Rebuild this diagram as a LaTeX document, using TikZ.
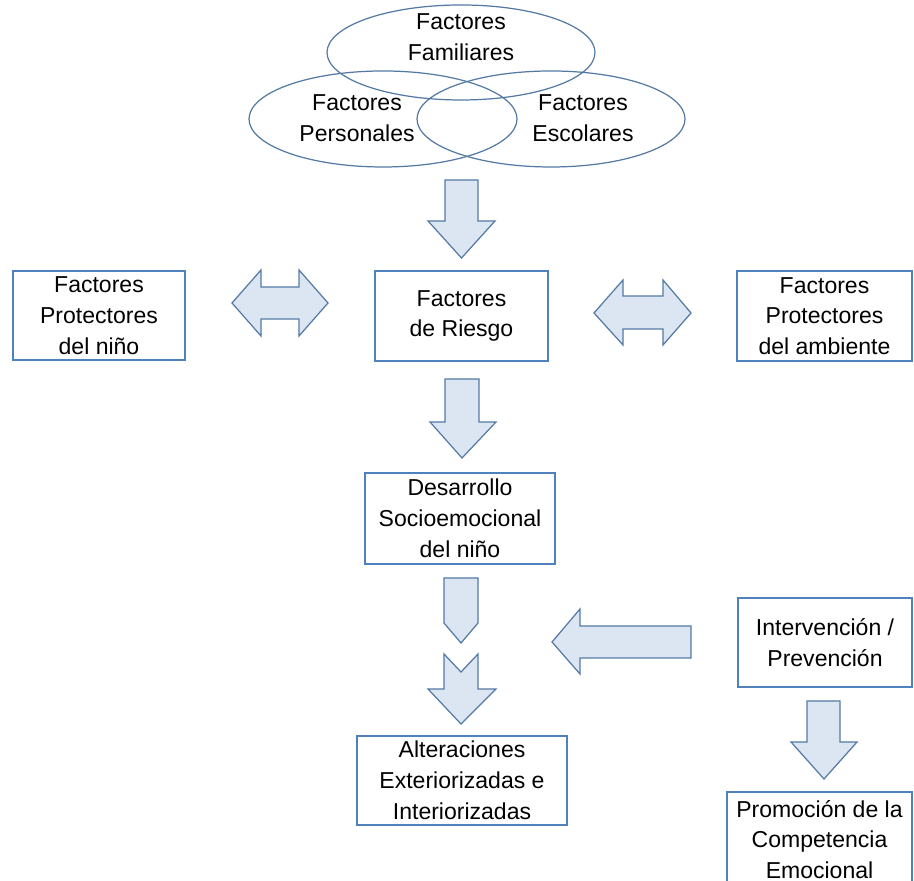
\documentclass[tikz,border=0pt]{standalone}
\usepackage{fontspec}
\setmainfont{Liberation Sans}
\usepackage{tikz}
\usetikzlibrary{positioning,shapes.geometric}
\definecolor{boxblue}{RGB}{79,129,189}
\definecolor{arrowedge}{RGB}{84,122,164}
\definecolor{arrowfill}{RGB}{220,230,242}
\tikzset{
  box/.style={rectangle,draw=boxblue,line width=0.7pt,align=center,
    font=\fontsize{13.1}{17.5}\selectfont,inner sep=0pt},
  venn/.style={ellipse,draw=arrowedge,line width=0.7pt,inner sep=0pt},
  venntext/.style={align=center,font=\fontsize{13.1}{17.5}\selectfont},
  blockarrow/.style={draw=arrowedge,fill=arrowfill,line width=0.7pt,line join=miter}
}

\begin{document}
\begin{tikzpicture}

\useasboundingbox (0,0) rectangle (18.28,17.62);

% Venn of factors
\node[venn,minimum width=5.36cm,minimum height=1.9cm] (famell) at (9.22,16.57) {};
\node[venn,minimum width=5.36cm,minimum height=1.92cm] (perell) at (7.66,15.24) {};
\node[venn,minimum width=5.36cm,minimum height=1.92cm] (escell) at (11.02,15.24) {};

\node[venntext] (familiares) at (9.22,16.88) {Factores\\Familiares};
\node[venntext] (personales) at (7.14,15.26) {Factores\\Personales};
\node[venntext] (escolares) at (11.66,15.26) {Factores\\Escolares};

% boxes
\node[box,minimum width=3.46cm,minimum height=1.80cm] (riesgo) at (9.23,11.30)
  {Factores\\de Riesgo};
\node[box,minimum width=3.44cm,minimum height=1.78cm] (protnino) at (1.98,11.31)
  {Factores\\Protectores\\del niño};
\node[box,minimum width=3.50cm,minimum height=1.80cm] (protamb) at (16.49,11.30)
  {Factores\\Protectores\\del ambiente};
\node[box,minimum width=3.80cm,minimum height=1.82cm] (desarrollo) at (9.20,7.25)
  {Desarrollo\\Socioemocional\\del niño};
\node[box,minimum width=4.20cm,minimum height=1.78cm] (alter) at (9.24,2.01)
  {Alteraciones\\Exteriorizadas e\\Interiorizadas};
\node[box,minimum width=3.48cm,minimum height=1.78cm] (interv) at (16.50,4.77)
  {Intervención /\\Prevención};
\node[box,minimum width=3.70cm,minimum height=1.90cm] (promo) at (16.39,0.83)
  {Promoción de la\\Competencia\\Emocional};

% block arrows
\draw[blockarrow] (8.90,14.02)--(9.56,14.02)--(9.56,13.20)--(9.90,13.20)
  --(9.23,12.46)--(8.56,13.20)--(8.90,13.20)--cycle;

\draw[blockarrow] (4.64,11.56)--(5.22,12.22)--(5.22,11.88)--(5.98,11.88)
  --(5.98,12.22)--(6.56,11.56)--(5.98,10.90)--(5.98,11.24)--(5.22,11.24)
  --(5.22,10.90)--cycle;

\draw[blockarrow] (11.88,11.36)--(12.46,12.02)--(12.46,11.70)--(13.26,11.70)
  --(13.26,12.02)--(13.82,11.36)--(13.26,10.72)--(13.26,11.04)--(12.46,11.04)
  --(12.46,10.72)--cycle;

\draw[blockarrow] (8.90,10.04)--(9.58,10.04)--(9.58,9.18)--(9.92,9.18)
  --(9.24,8.46)--(8.60,9.18)--(8.90,9.18)--cycle;

\draw[blockarrow] (8.88,6.06)--(9.56,6.06)--(9.56,5.16)--(9.22,4.76)
  --(8.88,5.16)--cycle;

\draw[blockarrow] (8.88,4.54)--(9.22,4.18)--(9.56,4.54)--(9.56,3.84)
  --(9.92,3.84)--(9.22,3.14)--(8.56,3.84)--(8.88,3.84)--cycle;

\draw[blockarrow] (11.04,4.78)--(11.60,5.44)--(11.60,5.10)--(13.82,5.10)
  --(13.82,4.46)--(11.60,4.46)--(11.60,4.14)--cycle;

\draw[blockarrow] (16.14,3.60)--(16.80,3.60)--(16.80,2.78)--(17.14,2.78)
  --(16.48,2.04)--(15.82,2.78)--(16.14,2.78)--cycle;

\end{tikzpicture}
\end{document}
